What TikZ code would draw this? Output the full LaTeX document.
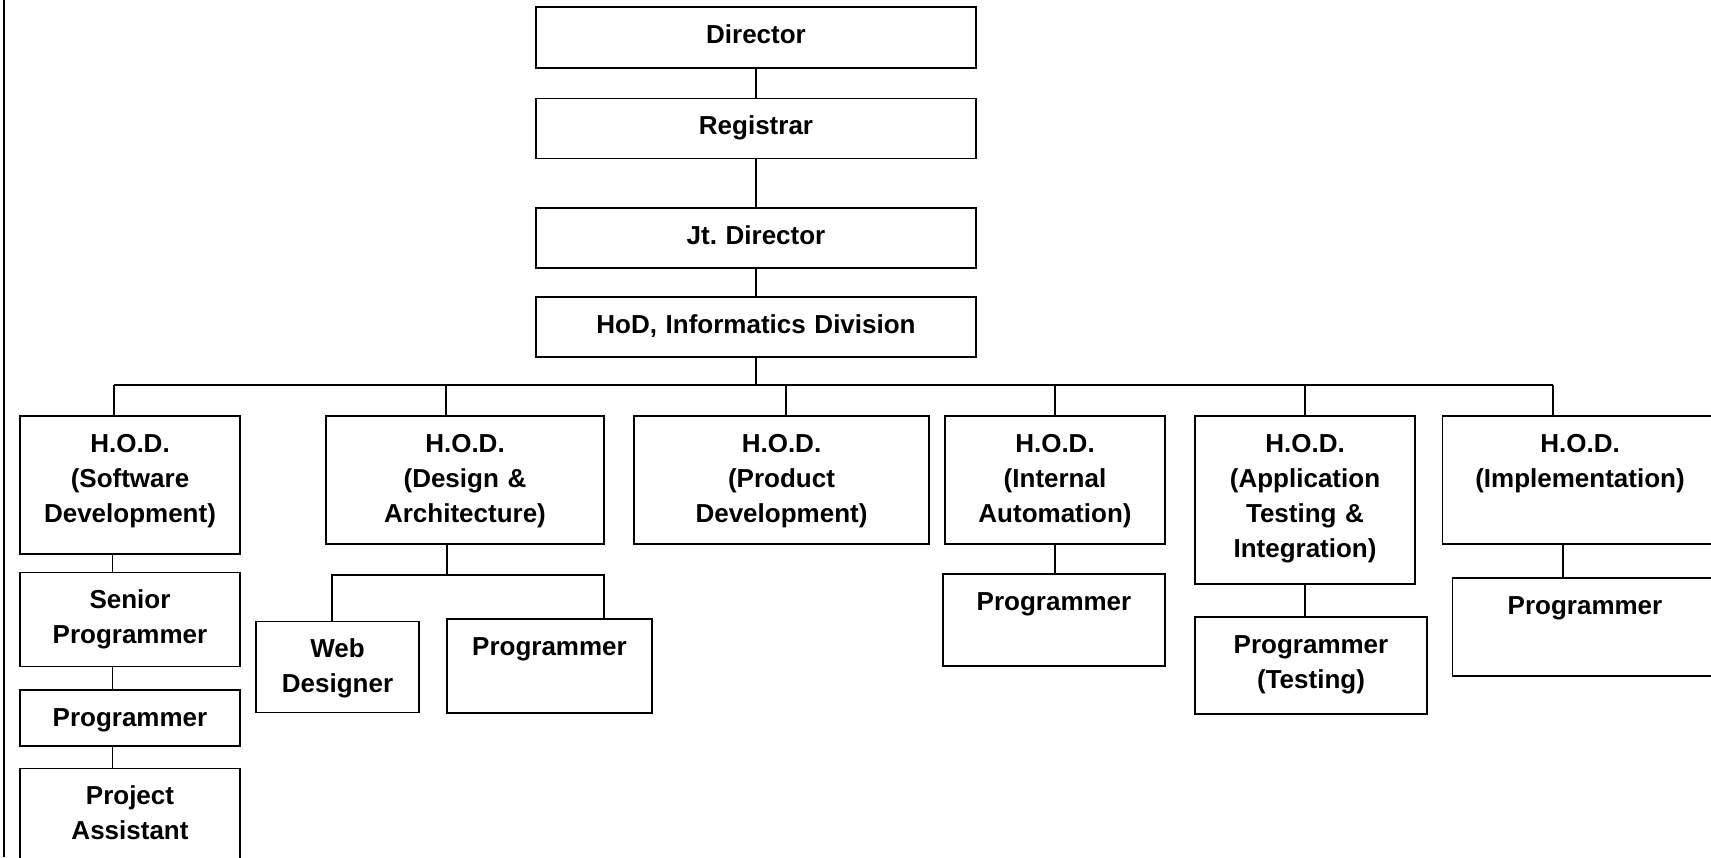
\documentclass[tikz,border=0pt]{standalone}
\usepackage{fontspec}
\setmainfont{Liberation Sans}
\usepackage{tikz}
\usetikzlibrary{calc}
\frenchspacing

\tikzset{
  orgbox/.style={draw, line width=0.9pt, rectangle, inner sep=0pt},
  boxtext/.style={anchor=base, yshift=-18.5pt, inner sep=0pt, text width=180pt, align=center,
    font=\fontsize{13}{17.5}\selectfont\bfseries},
  link/.style={line width=0.6pt}
}

\begin{document}
\begin{tikzpicture}[x=0.5pt, y=-0.5pt]

    % Page
    \useasboundingbox (0,0) rectangle (1711,857);
    \clip (0,0) rectangle (1711,857);
    \draw[link] (4,0) -- (4,857);

    % Top of the chain
    \node[orgbox, minimum width=220pt, minimum height=30.5pt, label={[boxtext]north:Director}] (dir) at (756,37.5) {};
    \node[orgbox, minimum width=220pt, minimum height=30pt, label={[boxtext]north:Registrar}] (reg) at (756,128.5) {};
    \node[orgbox, minimum width=220pt, minimum height=30pt, label={[boxtext]north:{Jt.\ Director}}] (jtd) at (756,238) {};
    \node[orgbox, minimum width=220pt, minimum height=30pt, label={[boxtext]north:{HoD, Informatics Division}}] (hodinf) at (756,327) {};

    \draw[link] (dir) -- (reg);
    \draw[link] (reg) -- (jtd);
    \draw[link] (jtd) -- (hodinf);

    % Heads of division
    \node[orgbox, minimum width=110pt, minimum height=69pt, label={[boxtext]north:{H.O.D.\\(Software\\Development)}}] (hsw) at (130,485) {};
    \node[orgbox, minimum width=139pt, minimum height=64pt, label={[boxtext]north:{H.O.D.\\(Design \&\\Architecture)}}] (hda) at (465,480) {};
    \node[orgbox, minimum width=147.5pt, minimum height=64pt, label={[boxtext]north:{H.O.D.\\(Product\\Development)}}] (hpd) at (781.5,480) {};
    \node[orgbox, minimum width=110pt, minimum height=64pt, label={[boxtext]north:{H.O.D.\\(Internal\\Automation)}}] (hia) at (1055,480) {};
    \node[orgbox, minimum width=110pt, minimum height=84pt, label={[boxtext]north:{H.O.D.\\(Application\\Testing \&\\Integration)}}] (hat) at (1305,500) {};
    \node[orgbox, minimum width=137.5pt, minimum height=64pt, label={[boxtext]north:{H.O.D.\\(Implementation)}}] (him) at (1580,480) {};

    % Bus
    \coordinate (busl) at (114,385);
    \coordinate (busr) at (1553,385);
    \coordinate (tda) at (446,385);
    \coordinate (tpd) at (786,385);
    \draw[link] (busl) -- (busr);
    \draw[link] (hodinf) -- (hodinf |- busl);
    \draw[link] (busl) -- (busl |- hsw.north);
    \draw[link] (tda) -- (tda |- hda.north);
    \draw[link] (tpd) -- (tpd |- hpd.north);
    \draw[link] (hia.north |- busl) -- (hia.north);
    \draw[link] (hat.north |- busl) -- (hat.north);
    \draw[link] (busr) -- (busr |- him.north);

    % Software development column
    \node[orgbox, minimum width=110pt, minimum height=47pt, label={[boxtext]north:{Senior\\Programmer}}] (ssp) at (130,619.5) {};
    \node[orgbox, minimum width=110pt, minimum height=28pt, label={[boxtext]north:Programmer}] (sprog) at (130,718) {};
    \node[orgbox, minimum width=110pt, minimum height=56pt, label={[boxtext]north:{Project\\Assistant}}] (spa) at (130,824.5) {};

    \coordinate (swx) at (112.5,0);
    \draw[link] (hsw.south -| swx) -- (ssp.north -| swx);
    \draw[link] (ssp.south -| swx) -- (sprog.north -| swx);
    \draw[link] (sprog.south -| swx) -- (spa.north -| swx);

    % Design & architecture
    \node[orgbox, minimum width=81.5pt, minimum height=45.5pt, label={[boxtext]north:{Web\\Designer}}] (dweb) at (337.5,667) {};
    \node[orgbox, minimum width=102.5pt, minimum height=47pt, label={[boxtext]north:Programmer}] (dprog) at (549.5,666) {};

    \coordinate (dsplit) at (447,575);
    \coordinate (dl) at (332,575);
    \coordinate (dr) at (604,575);
    \draw[link] (hda.south -| dsplit) -- (dsplit);
    \draw[link] (dl |- dweb.north) -- (dl) -- (dr) -- (dr |- dprog.north);

    % Other programmers
    \node[orgbox, minimum width=111pt, minimum height=46pt, label={[boxtext]north:Programmer}] (iprog) at (1054,620) {};
    \node[orgbox, minimum width=116pt, minimum height=48.5pt, label={[boxtext]north:{Programmer\\(Testing)}}] (tprog) at (1311,665.5) {};
    \node[orgbox, minimum width=132.5pt, minimum height=49pt, label={[boxtext]north:Programmer}] (mprog) at (1585,627) {};

    \coordinate (mx) at (1563,0);
    \draw[link] (hia.south) -- (hia.south |- iprog.north);
    \draw[link] (hat.south) -- (hat.south |- tprog.north);
    \draw[link] (him.south -| mx) -- (mprog.north -| mx);

\end{tikzpicture}
\end{document}
